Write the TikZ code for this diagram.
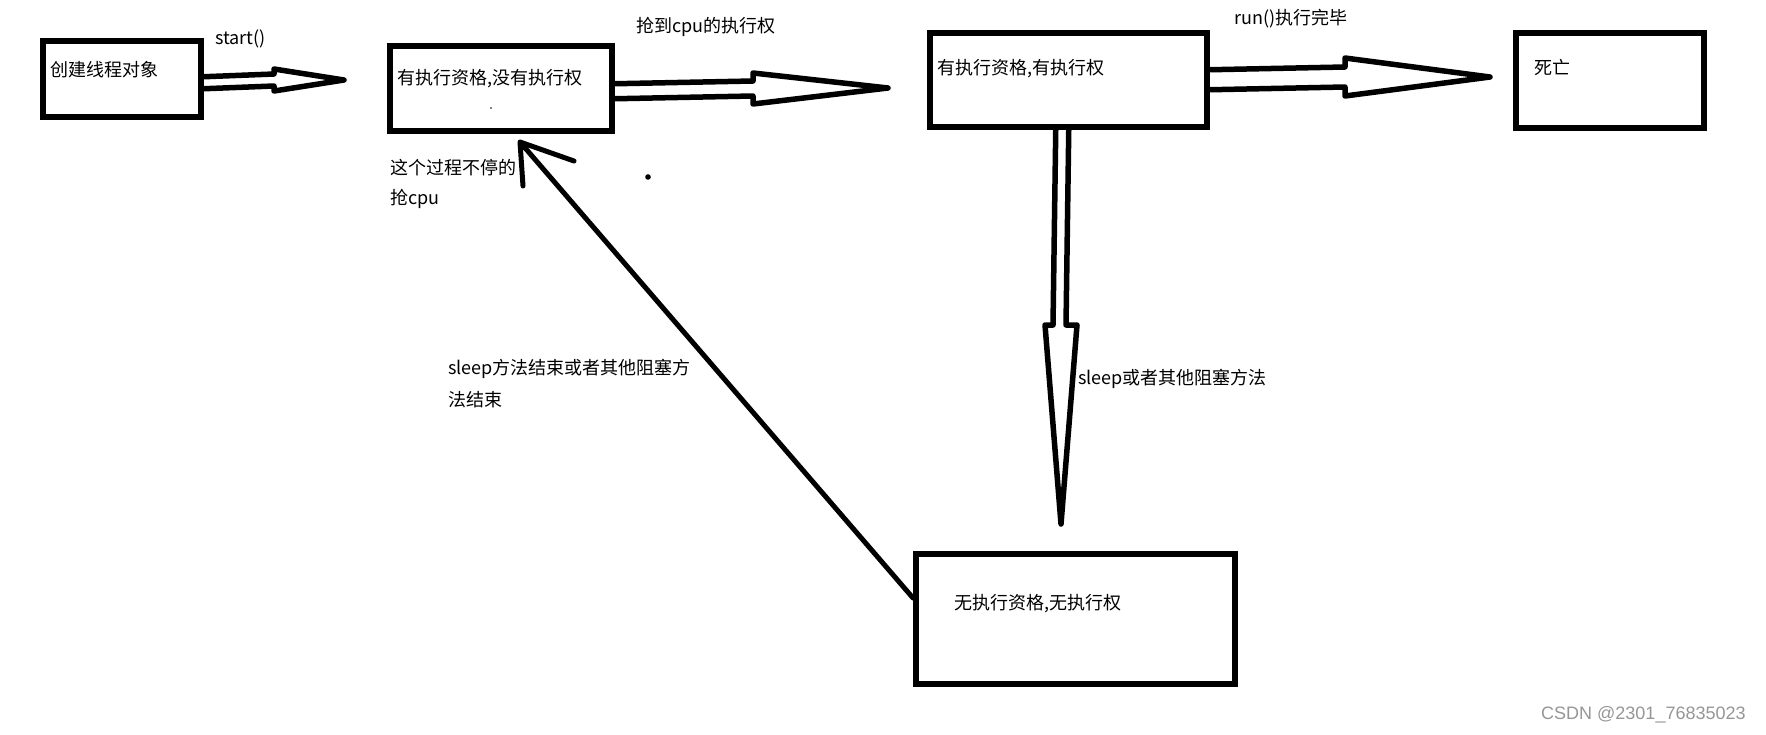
\documentclass[tikz,border=0pt]{standalone}
\usepackage{fontspec}
\setmainfont{Noto Sans CJK SC}
\newfontfamily\wmfont{Liberation Sans}
\usetikzlibrary{calc}
\begin{document}
\begin{tikzpicture}[x=1pt,y=-1pt,
  box/.style={draw,line width=5.5pt,inner sep=0pt,anchor=north west},
  lbl/.style={anchor=west,inner sep=0pt,font=\fontsize{18}{20}\selectfont},
  hollow/.style={line width=5.5pt,line join=round},
  thin arrow/.style={line width=5pt,line cap=round,line join=round}]
\useasboundingbox (0,0) rectangle (1766,734);
% boxes
\node[box,minimum width=158pt,minimum height=76pt] (b1) at (40,38) {};
\node[box,minimum width=222pt,minimum height=85pt] (b2) at (387,43) {};
\node[box,minimum width=277pt,minimum height=94pt] (b3) at (927,30) {};
\node[box,minimum width=188pt,minimum height=95pt] (b4) at (1513,30) {};
\node[box,minimum width=319pt,minimum height=130pt] (b5) at (913,551) {};
% box texts
\node[lbl] (t1) at (50,70) {创建线程对象};
\node[lbl] (t2) at (397,79) {有执行资格,没有执行权};
\node[lbl] (t3) at (937,69) {有执行资格,有执行权};
\node[lbl] (t4) at (1534,68) {死亡};
\node[lbl] (t5) at (954,604) {无执行资格,无执行权};
% arrow tips
\coordinate (a1tip) at (344,80);
\coordinate (a2tip) at (888,88);
\coordinate (a3tip) at (1490,77);
\coordinate (a4tip) at (1061,524);
\coordinate (a5tip) at (520,142);
% hollow arrows
\draw[hollow] ($(b1.east)+(0,-2)$) -- (274,74) -- (274,69) -- (a1tip) -- (274,91) -- (274,86) -- ($(b1.east)+(0,10)$);
\draw[hollow] ($(b2.east)+(0,-4.5)$) -- (753,81) -- (753,73) -- (a2tip) -- (753,104) -- (753,96) -- ($(b2.east)+(0,10.5)$);
\draw[hollow] ($(b3.east)+(0,-10)$) -- (1345,67) -- (1345,58) -- (a3tip) -- (1345,96) -- (1345,87) -- ($(b3.east)+(0,10)$);
\draw[hollow] ($(b3.south)+(-12.5,0)$) -- (1053,325) -- (1045,325) -- (a4tip) -- (1077,325) -- (1066,325) -- ($(b3.south)+(0.5,0)$);
% diagonal arrow
\draw[thin arrow] ($(b5.north west)+(0,47)$) -- (a5tip) (574,161) -- (a5tip) -- (523,186);
% connector labels
\node[lbl] (l1) at (215,39) {start()};
\node[lbl] (l2) at (636,27) {抢到cpu的执行权};
\node[lbl] (l3) at (1234,19) {run()执行完毕};
\node[lbl] (l4) at (390,168) {这个过程不停的};
\node[lbl] (l5) at (390,199) {抢cpu};
\node[lbl] (l6) at (448,369) {sleep方法结束或者其他阻塞方};
\node[lbl] (l7) at (448,400) {法结束};
\node[lbl] (l8) at (1078,379) {sleep或者其他阻塞方法};
% dots
\fill (491,108) circle (0.8);
\fill (648,177) circle (2.8);
% watermark
\node[anchor=west,inner sep=0pt,text={rgb,255:red,150;green,150;blue,150},font=\wmfont\fontsize{18}{20}\selectfont] (wm) at (1541,715) {CSDN @2301\_76835023};
\end{tikzpicture}
\end{document}
